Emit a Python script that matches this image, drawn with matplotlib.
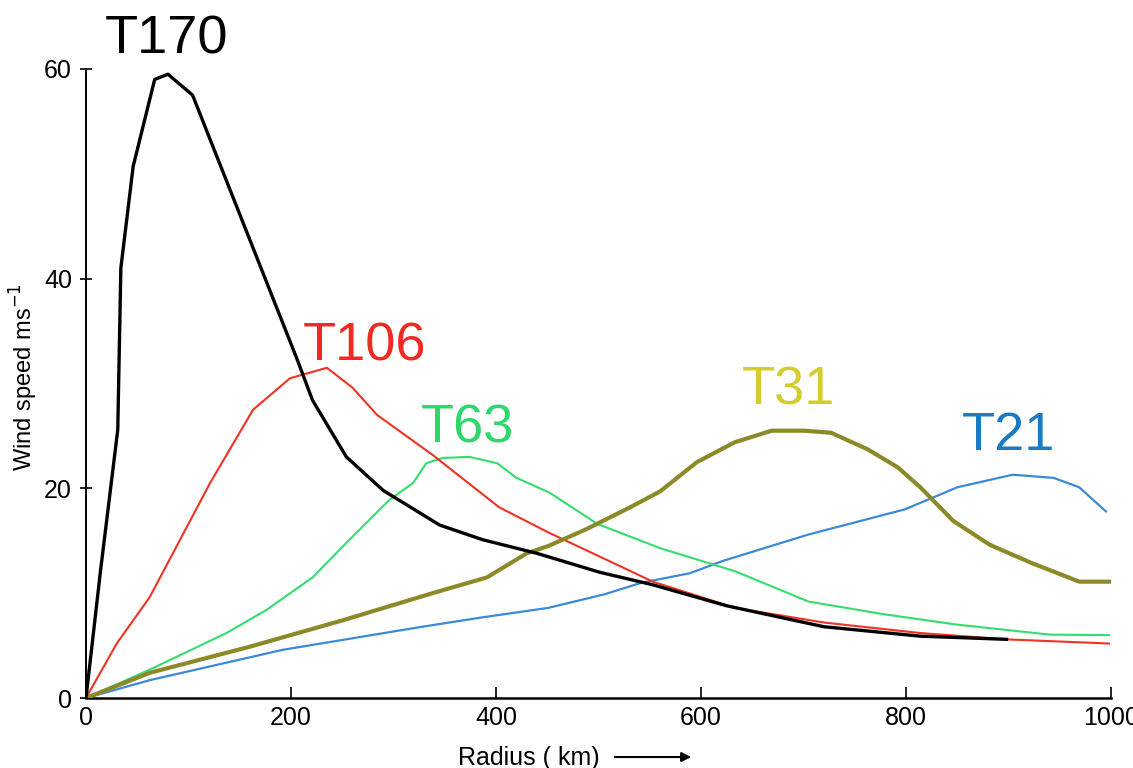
import matplotlib
matplotlib.use("Agg")
import matplotlib.pyplot as plt

# ---- data (radius km, wind speed m/s) ----
t170_x = [0, 14, 31, 34, 46, 67, 80, 104, 206, 221, 254, 290, 345, 387, 440, 501, 553, 625, 720, 814, 898]
t170_y = [0, 12, 25.6, 41, 50.7, 59, 59.5, 57.5, 32.3, 28.4, 23, 19.8, 16.5, 15.1, 13.8, 12.0, 10.8, 8.8, 6.8, 5.9, 5.6]

t106_x = [0, 30, 62, 121, 163, 199, 235, 260, 284, 338, 403, 451, 501, 553, 633, 720, 814, 897, 998]
t106_y = [0, 5.2, 9.6, 20.5, 27.5, 30.5, 31.5, 29.6, 27, 23.2, 18.2, 15.8, 13.5, 11.1, 8.6, 7.2, 6.2, 5.6, 5.2]

t63_x = [0, 62, 137, 176, 221, 257, 296, 319, 332, 348, 374, 401, 420, 452, 499, 560, 633, 705, 778, 850, 940, 998]
t63_y = [0, 2.7, 6.2, 8.4, 11.5, 15.1, 18.9, 20.5, 22.4, 22.9, 23, 22.4, 21, 19.6, 16.6, 14.3, 12.1, 9.2, 8.0, 7.0, 6.05, 6.0]

t31_x = [0, 62, 160, 250, 338, 391, 430, 451, 488, 531, 560, 596, 633, 669, 701, 727, 763, 792, 814, 846, 882, 922, 969, 1000]
t31_y = [0, 2.4, 4.9, 7.4, 10.0, 11.5, 13.8, 14.5, 16.1, 18.2, 19.7, 22.5, 24.4, 25.5, 25.5, 25.3, 23.7, 22.0, 20.1, 16.9, 14.6, 12.9, 11.1, 11.1]

t21_x = [0, 62, 192, 328, 387, 451, 506, 542, 589, 622, 705, 799, 850, 904, 944, 969, 995]
t21_y = [0, 1.7, 4.6, 6.8, 7.7, 8.6, 9.9, 11.0, 11.9, 13.1, 15.6, 18.0, 20.1, 21.3, 21.0, 20.1, 17.8]

labels = ["T170", "T106", "T63", "T31", "T21"]
label_pos = [(18, 61.5), (211, 32.2), (327, 24.4), (640, 28.0), (854, 23.7)]
x_ticks = [0, 200, 400, 600, 800, 1000]
y_ticks = [0, 20, 40, 60]

plt.rcParams['font.family'] = ['Liberation Sans', 'DejaVu Sans']

fig = plt.figure(figsize=(11.33, 7.68), dpi=100)
ax = fig.add_axes([0.0759, 0.0911, 0.9047, 0.8191])

ax.plot(t21_x, t21_y, color='#3a8ad6', lw=1.6, zorder=2)
ax.plot(t63_x, t63_y, color='#33dd6e', lw=1.5, zorder=3)
ax.plot(t106_x, t106_y, color='#ee3324', lw=1.5, zorder=3)
ax.plot(t31_x, t31_y, color='#8c8a28', lw=3.0, zorder=4)
ax.plot(t170_x, t170_y, color='black', lw=2.4, zorder=5)

label_colors = ['black', '#ee2a22', '#2ed66b', '#d4cc2e', '#1a7ac4']
for txt, (lx, ly), c in zip(labels, label_pos, label_colors):
    ax.text(lx, ly, txt, color=c, fontsize=39, ha='left', va='baseline', clip_on=False)

ax.set_xlim(0, 1000)
ax.set_ylim(0, 60)
ax.set_xticks(x_ticks)
ax.set_yticks(y_ticks)
for s in ['top', 'right']:
    ax.spines[s].set_visible(False)
ax.spines['left'].set_linewidth(1.4)
ax.spines['bottom'].set_linewidth(1.8)
ax.tick_params(axis='x', direction='in', length=8, width=1.2, labelsize=18, pad=6)
ax.tick_params(axis='y', direction='inout', length=8, width=1.2, labelsize=18, pad=6)

fig.text(0.021, 0.509, "Wind speed ms$^{-1}$", rotation=90, fontsize=17,
         ha='center', va='center')
fig.text(458 / 1133, 0.013, "Radius ( km)", fontsize=18, ha='left', va='center')
fig.add_artist(matplotlib.patches.FancyArrowPatch(
    (612 / 1133, 0.0143), (694 / 1133, 0.0143), transform=fig.transFigure,
    arrowstyle='-|>', mutation_scale=14, lw=1.5, color='black'))

fig.savefig("out.png", dpi=100)
